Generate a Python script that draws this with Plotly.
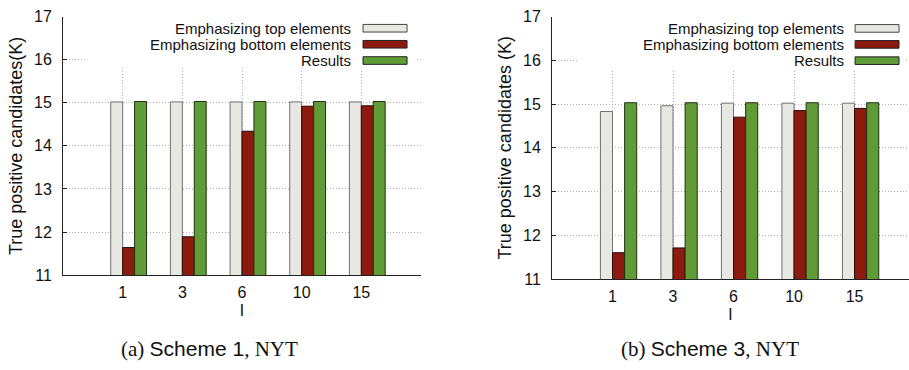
import plotly.graph_objects as go

# ---- data ----
categories = ["1", "3", "6", "10", "15"]
series_names = ["Emphasizing top elements", "Emphasizing bottom elements", "Results"]

s1_top = [15.02, 15.02, 15.02, 15.02, 15.02]
s1_bottom = [11.64, 11.89, 14.34, 14.92, 14.93]
s1_results = [15.03, 15.03, 15.03, 15.03, 15.03]

s3_top = [14.83, 14.96, 15.02, 15.02, 15.02]
s3_bottom = [11.60, 11.71, 14.70, 14.85, 14.90]
s3_results = [15.03, 15.03, 15.03, 15.03, 15.03]

y_ticks = [11, 12, 13, 14, 15, 16, 17]
captions = ["(a)", "(b)"]
scheme_labels = ["Scheme 1", "Scheme 3"]
dataset_label = "NYT"

# ---- style ----
fill_colors = ["#e8e8e3", "#8c1a0f", "#5f9b37"]
line_colors = ["#707070", "#2a0a05", "#1f3010"]
offsets = [-0.1, 0.1, 0.3]
bar_w = 0.2
FONT = "Liberation Sans, Arial, sans-serif"
SERIF = "Liberation Serif, DejaVu Serif, serif"
TXT = "#111"

fig = go.Figure()

panels = [
    dict(data=[s1_top, s1_bottom, s1_results], xa="x", ya="y"),
    dict(data=[s3_top, s3_bottom, s3_results], xa="x2", ya="y2"),
]
idx = list(range(len(categories)))
for p in panels:
    for k, vals in enumerate(p["data"]):
        fig.add_trace(go.Bar(
            x=[i + offsets[k] for i in idx], y=vals, width=bar_w,
            name=series_names[k], showlegend=False,
            marker=dict(color=fill_colors[k], line=dict(color=line_colors[k], width=1)),
            xaxis=p["xa"], yaxis=p["ya"],
        ))

axis_common = dict(
    showline=True, linecolor="#222", linewidth=1,
    showgrid=True, gridcolor="#b0b0b0", griddash="1px,2px", gridwidth=1,
    zeroline=False, ticks="inside", ticklen=4, tickcolor="#222",
    tickfont=dict(family=FONT, size=16, color=TXT),
)
xcommon = dict(axis_common, tickmode="array", tickvals=idx, ticktext=categories,
               ticklabelstandoff=3,
               title=dict(text="l", font=dict(family=FONT, size=17, color=TXT), standoff=2))
ytitle_font = dict(family=FONT, size=18, color=TXT)

fig.update_layout(
    width=909, height=370, margin=dict(l=0, r=0, t=0, b=0),
    paper_bgcolor="white", plot_bgcolor="white", barmode="overlay",
    font=dict(family=FONT, size=16, color=TXT),
    xaxis=dict(xcommon, domain=[63 / 909, 421 / 909], range=[-1.0, 5.0], anchor="y"),
    yaxis=dict(axis_common, domain=[1 - 280 / 370, 1 - 9 / 370], range=[11, 17],
               tickvals=y_ticks, anchor="x", ticklabelstandoff=7,
               title=dict(text="True positive candidates(K)", font=ytitle_font, standoff=6)),
    xaxis2=dict(xcommon, domain=[552 / 909, 1.0], range=[-1.0, 4.9], anchor="y2"),
    yaxis2=dict(axis_common, domain=[1 - 284 / 370, 1 - 9 / 370], range=[11, 17],
                tickvals=y_ticks, anchor="x2", ticklabelstandoff=7,
                title=dict(text="True positive candidates (K)", font=ytitle_font, standoff=6)),
)

# ---- custom gnuplot-style keys ----
keys = [
    dict(xr="x domain", yr="y domain", box=(0.061, 0.989, 0.80), text_x=0.807,
         sw=(0.838, 0.961), rows=[0.955, 0.893, 0.830], h=0.0295),
    dict(xr="x2 domain", yr="y2 domain", box=(0.073, 0.985, 0.80), text_x=0.821,
         sw=(0.849, 0.972), rows=[0.955, 0.894, 0.832], h=0.029),
]
for kd in keys:
    bx0, bx1, by0 = kd["box"]
    fig.add_shape(type="rect", xref=kd["xr"], yref=kd["yr"], x0=bx0, x1=bx1, y0=by0, y1=0.999,
                  fillcolor="white", line=dict(width=0), layer="above")
    for k in range(3):
        yc = kd["rows"][k]
        fig.add_shape(type="rect", xref=kd["xr"], yref=kd["yr"],
                      x0=kd["sw"][0], x1=kd["sw"][1], y0=yc - kd["h"] / 2, y1=yc + kd["h"] / 2,
                      fillcolor=fill_colors[k], line=dict(color="#222" if k else "#444", width=1),
                      layer="above")
        fig.add_annotation(xref=kd["xr"], yref=kd["yr"], x=kd["text_x"], y=yc,
                           text=series_names[k], showarrow=False, xanchor="right", yanchor="middle",
                           borderpad=0, font=dict(family=FONT, size=15, color=TXT))

# ---- captions ----
for cx, cap, sch in [(209, captions[0], scheme_labels[0]), (710, captions[1], scheme_labels[1])]:
    txt = (f"{cap} "
           f"<span style=\"font-family:'Liberation Sans',Arial,sans-serif\">{sch}</span>"
           f", {dataset_label}")
    fig.add_annotation(xref="paper", yref="paper", x=cx / 909, y=1 - 357 / 370,
                       text=txt, showarrow=False, xanchor="center", yanchor="middle",
                       font=dict(family=SERIF, size=21, color=TXT))

fig.write_html("out.html")
